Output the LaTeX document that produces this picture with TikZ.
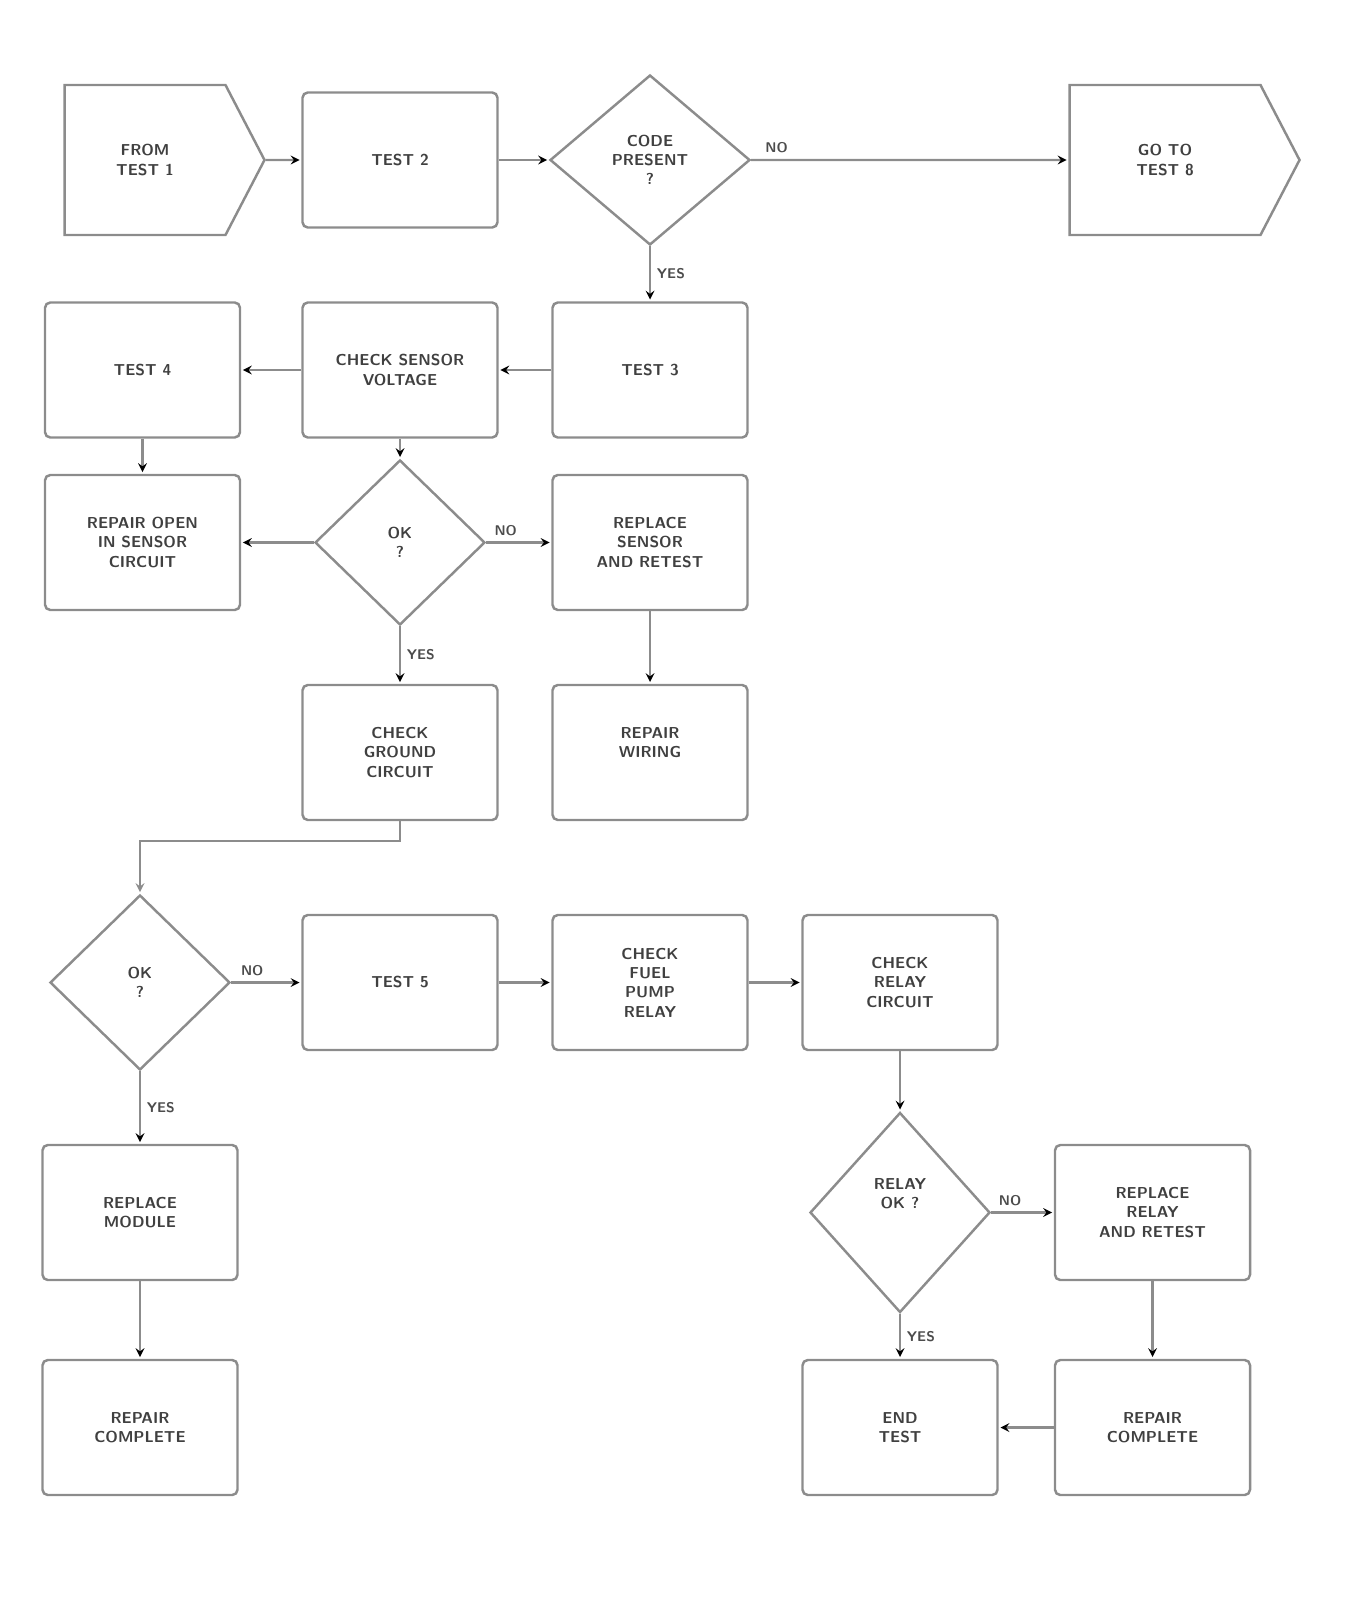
\documentclass[tikz,border=0pt]{standalone}
\usepackage{tikz}
\usetikzlibrary{positioning,shapes.geometric,shapes.symbols}

\begin{document}
\begin{tikzpicture}[>=stealth,shorten >=1pt,on grid,auto,
		font=\sffamily\bfseries\small,
		box/.style={draw=black!45,line width=1.4pt,rounded corners=3pt,minimum width=3.9cm,minimum height=2.7cm,align=center,text=black!75},
		ask/.style={diamond,draw=black!45,line width=1.4pt,minimum width=3.8cm,minimum height=3.4cm,align=center,inner sep=0pt,text=black!75},
		go/.style={signal,signal to=east,signal pointer angle=125,draw=black!45,line width=1.4pt,minimum width=4cm,minimum height=3cm,align=center,text=black!75},
		link/.style={draw=black!45,line width=1.2pt,->},
		tag/.style={font=\sffamily\bfseries\footnotesize,text=black!70}]
			\useasboundingbox (0,0) rectangle (27.08,-32.34);
			% top row
			\node[go] (start) at (2.9,-3.2) {FROM\\TEST 1};
			\node[box] (t2) [right=5.1cm of start] {TEST 2};
			\node[ask,minimum width=4cm] (code) [right=5cm of t2] {CODE\\PRESENT\\?};
			\node[go,minimum width=4.6cm] (exit) [right=10.3cm of code] {GO TO\\TEST 8};
			% second row
			\node[box] (t3) [below=4.2cm of code] {TEST 3};
			\node[box] (volt) [left=5cm of t3] {CHECK SENSOR\\VOLTAGE};
			\node[box] (t4) [left=5.15cm of volt] {TEST 4};
			% third row
			\node[box] (open) [below=3.45cm of t4] {REPAIR OPEN\\IN SENSOR\\CIRCUIT};
			\node[ask,minimum width=3.4cm,minimum height=3.3cm] (ok1) [below=3.45cm of volt] {OK\\?};
			\node[box] (sensor) [below=3.45cm of t3] {REPLACE\\SENSOR\\AND RETEST};
			% fourth row
			\node[box] (ground) [below=4.2cm of ok1] {CHECK\\GROUND\\CIRCUIT};
			\node[box] (wiring) [below=4.2cm of sensor] {REPAIR\\WIRING\\ };
			% fifth row
			\node[box] (t5) [below=4.6cm of ground] {TEST 5};
			\node[ask,minimum width=3.6cm,minimum height=3.5cm] (ok2) [left=5.2cm of t5] {OK\\?};
			\node[box] (pump) [right=5cm of t5] {CHECK\\FUEL\\PUMP\\RELAY};
			\node[box] (relay) [right=5cm of pump] {CHECK\\RELAY\\CIRCUIT};
			% sixth row
			\node[ask,minimum width=3.6cm,minimum height=4cm] (rok) [below=4.6cm of relay] {RELAY\\OK ?\\ \\ };
			\node[box] (newrelay) [right=5.05cm of rok] {REPLACE\\RELAY\\AND RETEST};
			\node[box] (module) [below=4.6cm of ok2] {REPLACE\\MODULE};
			% bottom row
			\node[box] (done1) [below=4.3cm of module] {REPAIR\\COMPLETE};
			\node[box] (end) [below=4.3cm of rok] {END\\TEST};
			\node[box] (done2) [below=4.3cm of newrelay] {REPAIR\\COMPLETE};
			\path[link]
				(start) edge (t2)
				(t2) edge (code)
				(code) edge node[tag,pos=.08] {NO} (exit)
				(code) edge node[tag] {YES} (t3)
				(t3) edge (volt)
				(volt) edge (t4)
				(t4) edge (open)
				(volt) edge (ok1)
				(ok1) edge (open)
				(ok1) edge node[tag,pos=.3] {NO} (sensor)
				(ok1) edge node[tag] {YES} (ground)
				(sensor) edge (wiring)
				(ok2) edge node[tag,pos=.3] {NO} (t5)
				(t5) edge (pump)
				(pump) edge (relay)
				(relay) edge (rok)
				(rok) edge node[tag,pos=.3] {NO} (newrelay)
				(rok) edge node[tag] {YES} (end)
				(newrelay) edge (done2)
				(done2) edge (end)
				(ok2) edge node[tag] {YES} (module)
				(module) edge (done1);
			\draw[link] (ground.south) -- ++(0,-0.4) -| (ok2.north);
		\end{tikzpicture}
\end{document}
